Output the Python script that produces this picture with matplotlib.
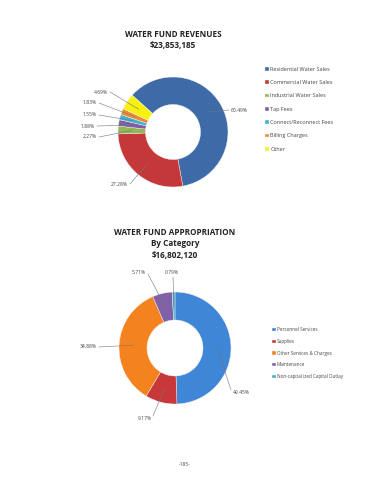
import numpy as np
import matplotlib
matplotlib.use("Agg")
import matplotlib.pyplot as plt

# ---------------- data ----------------
rev_title = "WATER FUND REVENUES\n$23,853,185"
rev_labels = ["Residential Water Sales", "Commercial Water Sales", "Industrial Water Sales",
              "Tap Fees", "Connect/Reconnect Fees", "Billing Charges", "Other"]
rev_values = [60.49, 27.28, 2.27, 1.88, 1.55, 1.83, 4.69]
rev_colors = ["#3E6BA8", "#C5383A", "#93B752", "#7E5FA6", "#3FB3CF", "#F08A32", "#F6F20E"]

app_title = "WATER FUND APPROPRIATION\nBy Category\n$16,802,120"
app_labels = ["Personnel Services", "Supplies", "Other Services & Charges",
              "Maintenance", "Non-capital ized Capital Outlay"]
app_values = [49.45, 9.17, 34.88, 5.71, 0.79]
app_colors = ["#3F86D6", "#C8373A", "#F4821F", "#8061A8", "#3DAEC9"]

page_label = "-185-"

# ---------------- layout helpers ----------------
W, H = 370, 480
fig = plt.figure(figsize=(3.7, 4.8), dpi=100)
fig.patch.set_facecolor("white")
plt.rcParams['font.family'] = ['Open Sans', 'DejaVu Sans']

TXT = "#444444"
LBL_FS = 3.6


def make_donut(cx, cy, R, values, colors, startangle):
    half = 85
    ax = fig.add_axes([(cx - half) / W, 1 - (cy + half) / H, 2 * half / W, 2 * half / H])
    lim = half / R
    wedges, _ = ax.pie(values, colors=colors, startangle=startangle, counterclock=False,
                       radius=1, wedgeprops=dict(width=0.5, edgecolor="#f4f4f4", linewidth=0.3))
    ax.set_xlim(-lim, lim)
    ax.set_ylim(-lim, lim)
    ax.set_aspect("equal")
    ax.axis("off")
    return ax, wedges


def px2d(cx, cy, R, x, y):
    return (x - cx) / R, (cy - y) / R


def label(ax, wedge, cx, cy, R, text, tx, ty, ha, rr=0.75, line_end=None):
    ang = np.deg2rad((wedge.theta1 + wedge.theta2) / 2)
    p = (rr * np.cos(ang), rr * np.sin(ang))
    t = px2d(cx, cy, R, tx, ty)
    ax.text(t[0], t[1], text, ha=ha, va="center", fontsize=LBL_FS, color=TXT)
    if line_end is None:
        off = 2 / R if ha == "left" else -2 / R
        le = (t[0] - off, t[1])
    else:
        le = px2d(cx, cy, R, *line_end)
    ax.plot([p[0], le[0]], [p[1], le[1]], color="#777777", lw=0.4)


# ---------------- revenue donut ----------------
c1 = (173, 132); R1 = 55
ax1, w1 = make_donut(c1[0], c1[1], R1, rev_values, rev_colors, 138)
rev_pos = [(231, 110, "left"), (128, 184, "right"), (97, 137, "right"),
           (95, 126, "right"), (97, 115, "right"), (97, 103, "right"), (108, 92, "right")]
for w, v, (tx, ty, ha) in zip(w1, rev_values, rev_pos):
    label(ax1, w, c1[0], c1[1], R1, f"{v:.2f}%", tx, ty, ha)

fig.text(173 / W, 1 - 40 / H, rev_title, ha="center", va="center", fontsize=5.9,
         fontweight="bold", color="#222222", linespacing=1.4)

fig.legend(w1, rev_labels, loc="upper left", bbox_to_anchor=(262 / W, 1 - 64 / H),
           frameon=False, fontsize=4.0, handlelength=0.7, handleheight=0.7,
           handletextpad=0.3, labelspacing=1.5, borderpad=0, labelcolor=TXT)

# ---------------- appropriation donut ----------------
c2 = (175, 348); R2 = 56
ax2, w2 = make_donut(c2[0], c2[1], R2, app_values, app_colors, 90)
app_pos = [(233, 392, "left", (231, 390)), (152, 418, "right", (153, 416)),
           (97, 347, "right", None), (146, 273, "right", (148, 274)),
           (179, 273, "right", (173, 277))]
for w, v, (tx, ty, ha, le) in zip(w2, app_values, app_pos):
    label(ax2, w, c2[0], c2[1], R2, f"{v:.2f}%", tx, ty, ha, line_end=le)

fig.text(175 / W, 1 - 244 / H, app_title, ha="center", va="center", fontsize=5.9,
         fontweight="bold", color="#222222", linespacing=1.4)

fig.legend(w2, app_labels, loc="upper left", bbox_to_anchor=(270 / W, 1 - 325 / H),
           frameon=False, fontsize=3.3, handlelength=0.7, handleheight=0.7,
           handletextpad=0.3, labelspacing=1.45, borderpad=0, labelcolor=TXT)

fig.text(185 / W, 1 - 464 / H, page_label, ha="center", va="center", fontsize=3.5, color=TXT)

fig.savefig("out.png", dpi=100, facecolor="white")
